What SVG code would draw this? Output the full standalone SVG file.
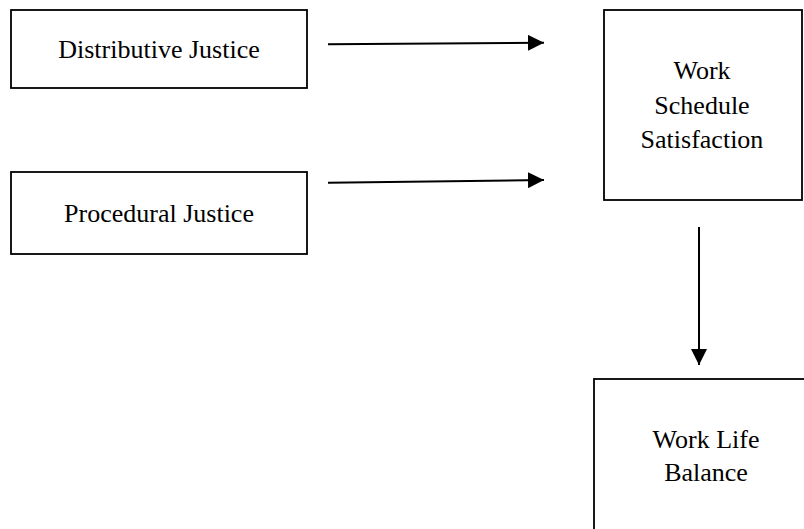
<svg xmlns="http://www.w3.org/2000/svg" width="804" height="529" viewBox="0 0 804 529">
<style>
.box{fill:#fff;stroke:#000;stroke-width:1.8}
.lbl{font-family:"Liberation Serif","Times New Roman",serif;font-size:26px;fill:#000;text-anchor:middle}
.con{stroke:#000;stroke-width:2;fill:none}
</style>
<defs>
<marker id="ah" markerUnits="userSpaceOnUse" markerWidth="16" markerHeight="16" refX="16" refY="8" orient="auto" viewBox="0 0 16 16">
<path d="M0,0 L16,8 L0,16 Z" fill="#000"/>
</marker>
</defs>
<rect width="804" height="529" fill="#fff"/>
<g id="distributive">
<rect class="box" x="11" y="10" width="296" height="78"/>
<text class="lbl" x="159" y="58">Distributive Justice</text>
</g>
<g id="procedural">
<rect class="box" x="11" y="172" width="296" height="82"/>
<text class="lbl" x="159" y="222">Procedural Justice</text>
</g>
<g id="wss">
<rect class="box" x="604" y="10" width="198" height="190"/>
<text class="lbl" x="702" y="79">Work</text>
<text class="lbl" x="702" y="114">Schedule</text>
<text class="lbl" x="702" y="148">Satisfaction</text>
</g>
<g id="wlb">
<rect class="box" x="594" y="379" width="226" height="170"/>
<text class="lbl" x="706" y="448">Work Life</text>
<text class="lbl" x="706" y="481">Balance</text>
</g>
<g id="connectors">
<line class="con" x1="328" y1="44.3" x2="544" y2="42.7" marker-end="url(#ah)"/>
<line class="con" x1="328" y1="182.7" x2="544" y2="180" marker-end="url(#ah)"/>
<line class="con" x1="699" y1="227" x2="699" y2="365" marker-end="url(#ah)"/>
</g>
</svg>
